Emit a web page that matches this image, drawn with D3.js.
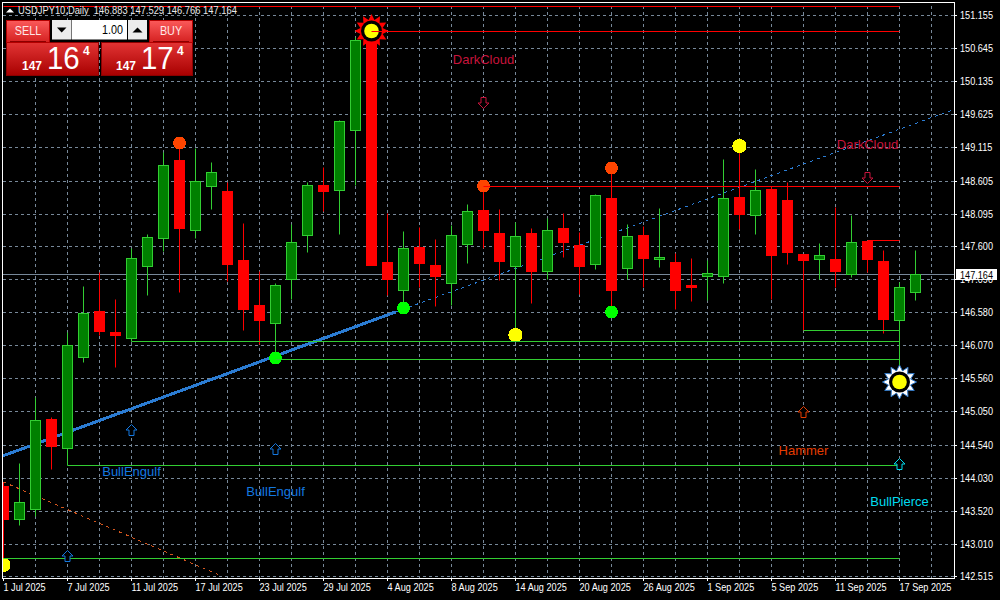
<!DOCTYPE html>
<html>
<head>
<meta charset="utf-8">
<script src="https://cdnjs.cloudflare.com/ajax/libs/d3/7.8.5/d3.min.js"></script>
<style>
  html, body { margin: 0; background: #000; overflow: hidden; }
  text { font-family: "Liberation Sans", sans-serif; }
</style>
</head>
<body>
<svg id="chart" width="1000" height="600"></svg>
<script>
const dates = ['1 Jul 2025','2 Jul 2025','3 Jul 2025','4 Jul 2025','7 Jul 2025','8 Jul 2025','9 Jul 2025','10 Jul 2025','11 Jul 2025','14 Jul 2025','15 Jul 2025','16 Jul 2025','17 Jul 2025','18 Jul 2025','21 Jul 2025','22 Jul 2025','23 Jul 2025','24 Jul 2025','25 Jul 2025','28 Jul 2025','29 Jul 2025','30 Jul 2025','31 Jul 2025','1 Aug 2025','4 Aug 2025','5 Aug 2025','6 Aug 2025','7 Aug 2025','8 Aug 2025','11 Aug 2025','12 Aug 2025','13 Aug 2025','14 Aug 2025','15 Aug 2025','18 Aug 2025','19 Aug 2025','20 Aug 2025','21 Aug 2025','22 Aug 2025','25 Aug 2025','26 Aug 2025','27 Aug 2025','28 Aug 2025','29 Aug 2025','1 Sep 2025','2 Sep 2025','3 Sep 2025','4 Sep 2025','5 Sep 2025','8 Sep 2025','9 Sep 2025','10 Sep 2025','11 Sep 2025','12 Sep 2025','15 Sep 2025','16 Sep 2025','17 Sep 2025','18 Sep 2025'];

const opens = [143.906,143.398,143.552,144.938,144.491,145.893,146.601,146.278,146.185,147.294,147.726,148.927,147.849,148.526,148.449,147.387,146.694,146.416,147.094,147.772,148.542,148.465,149.389,150.914,147.356,146.925,147.587,147.310,147.032,147.633,148.157,147.803,147.294,147.803,147.217,147.880,147.618,147.325,148.342,147.264,147.772,147.402,147.356,147.002,147.140,147.140,148.357,148.080,148.480,148.311,147.479,147.402,147.402,147.171,147.679,147.371,146.463,146.883];
const closes = [143.398,143.660,144.923,144.522,146.078,146.571,146.293,146.232,147.418,147.741,148.850,147.880,148.603,148.742,147.325,146.632,146.463,147.002,147.664,148.542,148.449,149.527,150.775,147.310,147.094,147.572,147.341,147.140,147.772,148.141,147.849,147.371,147.756,147.217,147.849,147.664,147.294,148.388,146.925,147.756,147.418,147.433,146.925,146.971,147.187,148.342,148.095,148.465,147.464,147.510,147.387,147.464,147.217,147.664,147.402,146.478,146.971,147.164];
const highs = [143.968,144.260,145.277,144.969,146.278,146.986,147.202,146.786,147.572,147.787,149.050,149.189,149.112,148.896,148.588,147.957,147.217,147.032,147.941,148.588,148.819,149.543,150.821,150.914,148.111,147.833,147.895,147.710,147.926,148.249,148.526,148.172,147.972,147.880,148.034,148.111,147.818,148.403,148.804,147.941,147.910,148.188,147.495,147.418,147.387,148.942,149.142,148.788,148.526,148.588,147.479,147.649,148.203,148.080,147.679,147.541,147.048,147.529];
const lows = [142.689,143.305,143.444,144.168,144.230,145.816,146.232,145.739,146.139,146.848,147.525,146.894,147.726,148.172,147.063,146.309,146.093,145.877,146.786,147.510,148.141,147.787,148.542,147.310,146.848,146.648,146.971,146.678,146.694,147.341,147.572,147.079,146.216,146.725,147.094,147.433,146.863,147.248,146.586,147.094,146.971,147.279,146.632,146.755,146.771,147.032,147.864,147.787,146.786,147.325,146.309,147.094,146.971,147.125,147.202,146.262,145.739,146.766];

const priceTicks = [151.155,150.645,150.135,149.625,149.115,148.605,148.095,147.600,147.090,146.580,146.070,145.560,145.050,144.540,144.030,143.520,143.010,142.515];
const lastPrice = 147.164;

// [index, price]
const orangeDots = [[11,149.189],[30,148.526],[38,148.804]];
const yellowDots = [[46,149.142],[32,146.232],[0,142.689]];
const greenDots = [[17,145.877],[25,146.648],[38,146.586]];
const redSuns = [[23,150.914]];
const whiteSuns = [[56,145.497]];

// [start index, price]
const redLevels = [[0,151.291],[23,150.909],[30,148.521],[54,147.690]];
const greenLevels = [[50,146.304],[8,146.134],[17,145.857],[4,144.224],[0,142.792]];

const trendSolid = [[-0.06,144.370],[24.5,146.581]];
const trendDotted = [[24.5,146.581],[59.3,149.697]];
const fallLine = [[0,143.968],[13.65,142.515]];

// [pattern, index, price]
const upArrows = [['BullEngulf',8,144.764],['BullEngulf',17,144.471],['BullEngulf',4,142.830],['Hammer',50,145.041],['BullPierce',56,144.245]];
const downArrows = [['DarkCloud',30,149.800],['DarkCloud',54,148.645]];
const patternLabels = [['DarkCloud',30,150.405],['DarkCloud',54,149.096],['BullEngulf',8,144.060],['BullEngulf',17,143.752],['Hammer',50,144.384],['BullPierce',56,143.598]];
const patternColors = {DarkCloud:'#c8143c', BullEngulf:'#1478e0', Hammer:'#e63c00', BullPierce:'#00dcf0'};

const frame = {left:3, top:3, right:955, bottom:579};
const gridColor = '#778899';
const lineGreen = '#32cd32';
const narrow = 0.83;

const x = d3.scaleLinear().domain([0,57]).rangeRound([3,915]);
const y = d3.scaleLinear().domain([142.515,151.155]).rangeRound([576,15]);
const px = i => x(i)+.5;
const py = p => y(p)+.5;

// pas de police etroite installee: on serre le texte
function condense(sel,k=narrow){
    sel.each(function(){
        this.setAttribute('textLength',this.getComputedTextLength()*k);
        this.setAttribute('lengthAdjust','spacingAndGlyphs');
    });
    return sel;
}

const svg = d3.select('#chart');
const defs = svg.append('defs');
defs.append('clipPath').attr('id','plot').append('rect')
    .attr('x',frame.left).attr('y',frame.top)
    .attr('width',frame.right-frame.left).attr('height',frame.bottom-frame.top);

// grid
const gridY = svg.append('g')
    .attr('transform',`translate(${frame.left},0)`)
    .call(d3.axisLeft(y).tickValues(priceTicks).tickFormat('').tickSize(-(frame.right-frame.left)));
const gridX = svg.append('g')
    .attr('transform',`translate(0,${frame.bottom})`)
    .call(d3.axisBottom(x).tickValues(d3.range(2,59,2)).tickFormat('').tickSize(-(frame.bottom-frame.top)));
[gridY,gridX].forEach(g=>{
    g.select('.domain').remove();
    g.selectAll('line').attr('stroke',gridColor).attr('stroke-dasharray','3,3');
});

const plot = svg.append('g').attr('clip-path','url(#plot)');

// lignes sous les bougies
plot.append('line').attr('x1',frame.left).attr('x2',frame.right)
    .attr('y1',py(lastPrice)).attr('y2',py(lastPrice))
    .attr('stroke',gridColor).attr('stroke-width',1);

const trendLine = d3.line().x(d=>px(d[0])).y(d=>y(d[1]));
plot.append('path').attr('d',trendLine(trendSolid)).attr('fill','none')
    .attr('stroke','#2b7cd3').attr('stroke-width',3).attr('shape-rendering','crispEdges');
plot.append('path').attr('d',trendLine(trendDotted)).attr('fill','none')
    .attr('stroke','#2b7cd3').attr('stroke-width',1).attr('stroke-dasharray','3,4').attr('shape-rendering','crispEdges');
plot.append('path').attr('d',trendLine(fallLine)).attr('fill','none')
    .attr('stroke','#d2561e').attr('stroke-width',1).attr('stroke-dasharray','3,4').attr('shape-rendering','crispEdges');

// bougies
const candles = plot.selectAll('g.candle').data(dates).join('g').attr('class','candle');
candles.each(function(d,i){
    const up = closes[i]>=opens[i];
    const g = d3.select(this);
    const col = up ? lineGreen : '#ff0000';
    g.append('line').attr('x1',px(i)).attr('x2',px(i))
        .attr('y1',py(highs[i])).attr('y2',py(lows[i])).attr('stroke',col);
    const top = py(Math.max(opens[i],closes[i]));
    const bottom = py(Math.min(opens[i],closes[i]));
    g.append('rect').attr('x',px(i)-5).attr('width',10)
        .attr('y',top).attr('height',bottom-top)
        .attr('fill',up ? '#008000' : '#ff0000').attr('stroke',col);
});

// soleils
const starPath = d3.lineRadial().angle(d=>d[0]).radius(d=>d[1]).curve(d3.curveLinearClosed);
const starPoints = d3.range(24).map(k=>[k*Math.PI/12, k%2 ? 11.5 : 17]);
function drawSuns(list,fill,stroke){
    const s = plot.selectAll(null).data(list).join('g')
        .attr('transform',d=>`translate(${px(d[0])},${y(d[1])})`);
    s.append('path').attr('d',starPath(starPoints)).attr('fill',fill).attr('stroke',stroke);
    s.append('circle').attr('r',10.5).attr('fill','#000');
    s.append('circle').attr('r',7.3).attr('fill','#ffff00');
}
drawSuns(redSuns,'#ff0000','none');
drawSuns(whiteSuns,'#ffffff','#2f78c8');

// points
function drawDots(list,fill,r){
    plot.selectAll(null).data(list).join('circle')
        .attr('cx',d=>px(d[0])).attr('cy',d=>y(d[1])).attr('r',r).attr('fill',fill)
        .attr('shape-rendering','crispEdges');
}
drawDots(orangeDots,'#ff4500',6.4);
drawDots(yellowDots,'#ffff00',7.1);
drawDots(greenDots,'#00ff00',6.4);

// niveaux horizontaux, jusqu'a la bougie 56
function drawLevels(list,color){
    plot.selectAll(null).data(list).join('line')
        .attr('x1',d=>px(d[0])).attr('x2',px(56))
        .attr('y1',d=>py(d[1])).attr('y2',d=>py(d[1]))
        .attr('stroke',color);
}
drawLevels(redLevels,'#ff0000');
drawLevels(greenLevels,lineGreen);

// fleches
const arrowShape = 'M0,-5.5L5.5,0L2.5,0L2.5,5.5L-2.5,5.5L-2.5,0L-5.5,0Z';
function drawArrows(list,flip){
    plot.selectAll(null).data(list).join('path')
        .attr('d',arrowShape)
        .attr('transform',d=>`translate(${px(d[1])},${y(d[2])}) scale(1,${flip})`)
        .attr('fill','#000').attr('stroke',d=>patternColors[d[0]]);
}
drawArrows(upArrows,1);
drawArrows(downArrows,-1);

// etiquettes
plot.selectAll(null).data(patternLabels).join('text')
    .attr('x',d=>px(d[1])).attr('y',d=>y(d[2]))
    .attr('text-anchor','middle')
    .style('font-size','13px')
    .attr('fill',d=>patternColors[d[0]])
    .text(d=>d[0]);

// cadre + axes
svg.append('rect').attr('x',frame.left-.5).attr('y',frame.top-.5)
    .attr('width',frame.right-frame.left).attr('height',frame.bottom-frame.top)
    .attr('fill','none').attr('stroke','#fff');

const priceAxis = svg.append('g')
    .attr('transform',`translate(${frame.right-1},0)`)
    .call(d3.axisRight(y).tickValues(priceTicks).tickFormat(d3.format('.3f')).tickSize(3).tickPadding(3));
const timeAxis = svg.append('g')
    .attr('transform',`translate(0,${frame.bottom-1})`)
    .call(d3.axisBottom(x).tickValues(d3.range(0,58,4)).tickFormat(i=>dates[i]).tickSize(3));
[priceAxis,timeAxis].forEach(g=>{
    g.select('.domain').remove();
    g.selectAll('line').attr('stroke','#fff');
    g.selectAll('text').attr('fill','#fff').style('font-size','11px');
});
timeAxis.selectAll('text').attr('text-anchor','start').attr('dy',0).attr('y',13);
condense(priceAxis.selectAll('text'));
condense(timeAxis.selectAll('text'));

// etiquette du dernier prix
const lastTag = svg.append('g').attr('transform',`translate(956,${py(lastPrice)})`);
lastTag.append('rect').attr('x',0).attr('y',-5.5).attr('width',41).attr('height',11).attr('fill','#fff');
condense(lastTag.append('text').attr('x',4).attr('y',4).attr('fill','#000').style('font-size','11px').text(d3.format('.3f')(lastPrice)));

// en-tete
svg.append('path').attr('d','M6,12.5L10,8.5L14,12.5Z').attr('fill','#fff');
condense(svg.append('text').attr('x',18).attr('y',14).attr('fill','#e8e8e8').style('font-size','11px')
    .attr('xml:space','preserve')
    .text('USDJPY10,Daily  146.883 147.529 146.766 147.164'),0.85);

// panneau one click
const gradTop = defs.append('linearGradient').attr('id','btnTop').attr('x2',0).attr('y2',1);
gradTop.append('stop').attr('offset',0).attr('stop-color','#fb5a5a');
gradTop.append('stop').attr('offset',1).attr('stop-color','#d42020');
const gradBottom = defs.append('linearGradient').attr('id','btnBottom').attr('x2',0).attr('y2',1);
gradBottom.append('stop').attr('offset',0).attr('stop-color','#e23434');
gradBottom.append('stop').attr('offset',1).attr('stop-color','#a80000');

const panel = svg.append('g');
panel.append('rect').attr('x',50).attr('y',20).attr('width',99).attr('height',22).attr('fill','#000');
function tradeButton(bx,lowX,lowW,label,big){
    panel.append('rect').attr('x',lowX+.5).attr('y',42.5).attr('width',lowW-1).attr('height',33)
        .attr('fill','url(#btnBottom)').attr('stroke','#8c0000');
    panel.append('rect').attr('x',bx+.5).attr('y',20.5).attr('width',43).attr('height',22)
        .attr('fill','url(#btnTop)').attr('stroke','#b40000');
    panel.append('line').attr('x1',bx+4).attr('x2',bx+40).attr('y1',41.5).attr('y2',41.5).attr('stroke','#8c0000');
    condense(panel.append('text').attr('x',bx+22).attr('y',35).attr('text-anchor','middle')
        .attr('fill','#ffe8e8').style('font-size','13px').text(label));
    const numX = lowX+(label==='SELL'?16:15);
    panel.append('text').attr('x',numX).attr('y',70).attr('fill','#fff')
        .style('font-weight','bold').style('font-size','12px').text('147');
    condense(panel.append('text').attr('x',numX+25).attr('y',69).attr('fill','#fff')
        .style('font-size','32px').text(big),0.92);
    panel.append('text').attr('x',numX+61).attr('y',55).attr('fill','#fff')
        .style('font-weight','bold').style('font-size','12px').text('4');
}
tradeButton(6,6,93,'SELL','16');
tradeButton(149,101,92,'BUY','17');
panel.append('rect').attr('x',52).attr('y',20).attr('width',19.5).attr('height',19.5).attr('fill','#ececec');
panel.append('rect').attr('x',128).attr('y',20).attr('width',19).attr('height',19.5).attr('fill','#ececec');
panel.append('rect').attr('x',72).attr('y',20).attr('width',55).attr('height',19.5).attr('fill','#fff');
panel.append('path').attr('d','M57,27.5L66.5,27.5L61.7,32.5Z').attr('fill','#000');
panel.append('path').attr('d','M132.5,32.5L142.5,32.5L137.5,27.5Z').attr('fill','#000');
condense(panel.append('text').attr('x',123).attr('y',34).attr('text-anchor','end').attr('fill','#000').style('font-size','13px').text('1.00'));
</script>
</body>
</html>
